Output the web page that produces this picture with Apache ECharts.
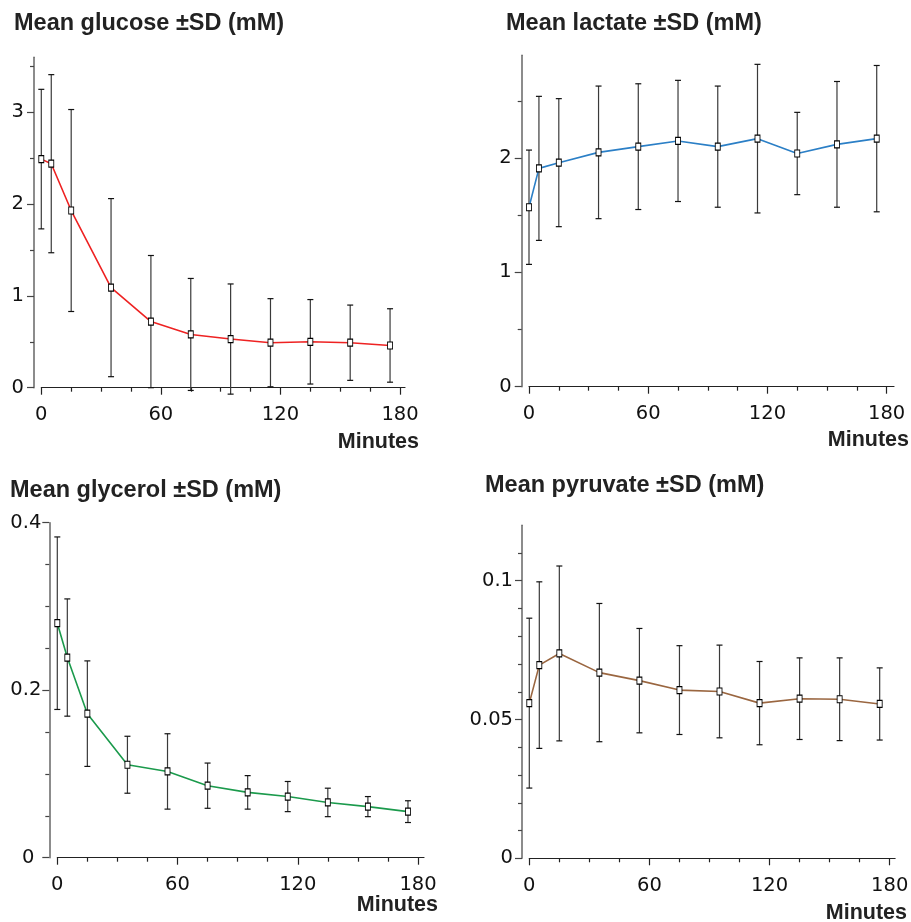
<!DOCTYPE html>
<html>
<head>
<meta charset="utf-8">
<script src="https://cdn.jsdelivr.net/npm/echarts@6/dist/echarts.min.js"></script>
<style>html,body{margin:0;padding:0;background:#fff;}#c{width:911px;height:922px;}</style>
</head>
<body>
<div id="c"></div>
<script>
// ---- data ----
const minutes = [0, 5, 15, 35, 55, 75, 95, 115, 135, 155, 175];

const glucoseMean = [2.49, 2.44, 1.93, 1.09, 0.72, 0.58, 0.53, 0.49, 0.50, 0.49, 0.46];
const glucoseSD   = [0.76, 0.97, 1.10, 0.97, 0.72, 0.61, 0.60, 0.48, 0.46, 0.41, 0.40];

const lactateMean = [1.57, 1.91, 1.96, 2.05, 2.10, 2.15, 2.10, 2.17, 2.04, 2.12, 2.17];
const lactateSD   = [0.50, 0.63, 0.56, 0.58, 0.55, 0.53, 0.53, 0.65, 0.36, 0.55, 0.64];

const glycerolMean = [0.280, 0.239, 0.172, 0.111, 0.103, 0.086, 0.078, 0.073, 0.066, 0.061, 0.055];
const glycerolSD   = [0.103, 0.070, 0.063, 0.034, 0.045, 0.027, 0.020, 0.018, 0.017, 0.012, 0.013];

const pyruvateMean = [0.0559, 0.0696, 0.0738, 0.0669, 0.0640, 0.0606, 0.0601, 0.0559, 0.0575, 0.0573, 0.0556];
const pyruvateSD   = [0.0306, 0.0300, 0.0315, 0.0249, 0.0188, 0.0160, 0.0167, 0.0150, 0.0147, 0.0149, 0.0130];

const xMajorTicks = [0, 60, 120, 180];
const xMinorTicks = [15, 30, 45, 75, 90, 105, 135, 150, 165];

const titles = ['Mean glucose ±SD (mM)', 'Mean lactate ±SD (mM)', 'Mean glycerol ±SD (mM)', 'Mean pyruvate ±SD (mM)'];
const xAxisName = 'Minutes';

const glucoseYMajor = [0, 1, 2, 3], glucoseYMinor = [0.5, 1.5, 2.5, 3.5];
const lactateYMajor = [0, 1, 2], lactateYMinor = [0.5, 1.5, 2.5];
const glycerolYMajor = [0, 0.2, 0.4], glycerolYMinor = [0.05, 0.1, 0.15, 0.25, 0.3, 0.35];
const pyruvateYMajor = [0, 0.05, 0.1], pyruvateYMinor = [0.01, 0.02, 0.03, 0.04, 0.06, 0.07, 0.08, 0.09, 0.11];

// ---- layout / style ----
const panels = [
  {mean: glucoseMean, sd: glucoseSD, yMajor: glucoseYMajor, yMinor: glucoseYMinor, yMax: 3.6, xMax: 182.5,
   grid: {left: 41.3, top: 57.2, width: 363.7, height: 330.5}, yOff: 7.3, color: '#ee2222',
   title: {x: 14, y: 24}, name: {x: 419, y: 442}},
  {mean: lactateMean, sd: lactateSD, yMajor: lactateYMajor, yMinor: lactateYMinor, yMax: 2.9, xMax: 183.7,
   grid: {left: 529, top: 55.2, width: 365, height: 331.5}, yOff: 7.3, color: '#2b7fc6',
   title: {x: 506, y: 24}, name: {x: 909, y: 440}},
  {mean: glycerolMean, sd: glycerolSD, yMajor: glycerolYMajor, yMinor: glycerolYMinor, yMax: 0.4, xMax: 183,
   grid: {left: 57.3, top: 522.7, width: 366.7, height: 335}, yOff: 8, color: '#1b9a4c',
   title: {x: 10, y: 491}, name: {x: 438, y: 905}},
  {mean: pyruvateMean, sd: pyruvateSD, yMajor: pyruvateYMajor, yMinor: pyruvateYMinor, yMax: 0.12, xMax: 182.7,
   grid: {left: 529.3, top: 525.2, width: 365.8, height: 333.1}, yOff: 7.3, color: '#9a6640',
   title: {x: 485, y: 486}, name: {x: 907, y: 913}}
];

const tickFont = 'DejaVu Sans';
const tickSize = 19.5;
const grids = [], xAxes = [], yAxes = [], series = [], graphics = [];

function errorItem() {
  return function (params, api) {
    const x = api.value(0), lo = api.value(1), hi = api.value(2);
    const a = api.coord([x, hi]), b = api.coord([x, lo]);
    const w = 3;
    const st = {stroke: '#3a3a3a', lineWidth: 1.2};
    return {type: 'group', children: [
      {type: 'line', shape: {x1: a[0], y1: a[1], x2: b[0], y2: b[1]}, style: st},
      {type: 'line', shape: {x1: a[0] - w, y1: a[1], x2: a[0] + w, y2: a[1]}, style: {stroke: '#111', lineWidth: 1.2}},
      {type: 'line', shape: {x1: b[0] - w, y1: b[1], x2: b[0] + w, y2: b[1]}, style: {stroke: '#111', lineWidth: 1.2}}
    ]};
  };
}

panels.forEach((p, i) => {
  grids.push(Object.assign({outerBoundsMode: 'none', containLabel: false}, p.grid));
  const xa = {
    gridIndex: i, type: 'value', position: 'bottom', min: 0, max: p.xMax,
    axisLine: {show: true, onZero: false, lineStyle: {color: '#222', width: 1.2}},
    splitLine: {show: false}
  };
  xAxes.push(Object.assign({}, xa, {
    axisTick: {show: true, customValues: xMajorTicks, length: 7, lineStyle: {color: '#222', width: 1.2}},
    axisLabel: {show: true, customValues: xMajorTicks, fontFamily: tickFont, fontSize: tickSize, color: '#111', margin: 17.5}
  }));
  xAxes.push(Object.assign({}, xa, {
    axisLine: {show: false, onZero: false},
    axisTick: {show: true, customValues: xMinorTicks, length: 4, lineStyle: {color: '#222', width: 1.2}},
    axisLabel: {show: false}
  }));
  const ya = {
    gridIndex: i, type: 'value', position: 'left', min: 0, max: p.yMax, offset: p.yOff,
    axisLine: {show: true, onZero: false, lineStyle: {color: '#666', width: 1.5}},
    splitLine: {show: false}
  };
  const labelOpt = {show: true, customValues: p.yMajor, fontFamily: tickFont, fontSize: tickSize, color: '#111', margin: 10};
  if (i === 2) {
    labelOpt.formatter = v => (v === 0 ? '{z|0}' : String(v));
    labelOpt.rich = {z: {fontFamily: tickFont, fontSize: tickSize, color: '#111', padding: [0, 7, 0, 0]}};
    labelOpt.margin = 8;
  }
  if (i === 3) labelOpt.margin = 9;
  yAxes.push(Object.assign({}, ya, {
    axisTick: {show: true, customValues: p.yMajor, length: 7, lineStyle: {color: '#444', width: 1.2}},
    axisLabel: labelOpt
  }));
  yAxes.push(Object.assign({}, ya, {
    axisLine: {show: false, onZero: false},
    axisTick: {show: true, customValues: p.yMinor, length: 4, lineStyle: {color: '#444', width: 1.2}},
    axisLabel: {show: false}
  }));

  series.push({
    type: 'custom', xAxisIndex: 2 * i, yAxisIndex: 2 * i, clip: false, z: 2,
    renderItem: errorItem(),
    encode: {x: 0, y: [1, 2]},
    data: minutes.map((t, k) => [t, p.mean[k] - p.sd[k], p.mean[k] + p.sd[k]]),
    silent: true
  });
  series.push({
    type: 'line', xAxisIndex: 2 * i, yAxisIndex: 2 * i, z: 3,
    data: minutes.map((t, k) => [t, p.mean[k]]),
    symbol: 'rect', symbolSize: [5, 7], showSymbol: true, showAllSymbol: true,
    itemStyle: {color: '#fff', borderColor: '#000', borderWidth: 1},
    lineStyle: {color: p.color, width: 1.6},
    emphasis: {disabled: true}, silent: true
  });

  graphics.push({type: 'text', x: p.title.x, y: p.title.y, z: 10,
    style: {text: titles[i], x: 0, y: 0, font: 'bold 23.5px "Liberation Sans", Arial, sans-serif', fill: '#222', textAlign: 'left', textVerticalAlign: 'middle'}});
  graphics.push({type: 'text', x: p.name.x, y: p.name.y, z: 10,
    style: {text: xAxisName, x: 0, y: 0, font: 'bold 21.5px "Liberation Sans", Arial, sans-serif', fill: '#222', textAlign: 'right', textVerticalAlign: 'middle'}});
});

const chart = echarts.init(document.getElementById('c'), null, {renderer: 'canvas'});
chart.setOption({
  backgroundColor: '#fff',
  animation: false,
  grid: grids,
  xAxis: xAxes,
  yAxis: yAxes,
  series: series,
  graphic: graphics
});
</script>
</body>
</html>
